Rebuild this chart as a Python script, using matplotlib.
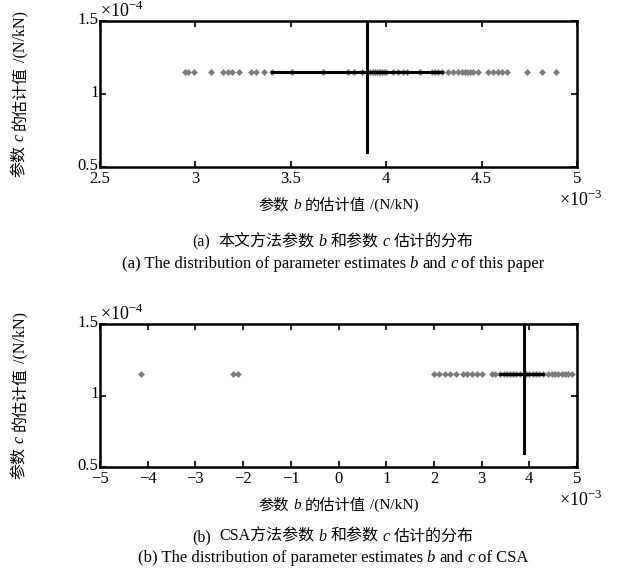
import matplotlib
matplotlib.use('Agg')

import matplotlib.pyplot as plt
import matplotlib.transforms as mtransforms
import numpy as np

# Estimates of parameter b (in units of 1e-3 N/kN), parameter c (1e-4 N/kN)
b_paper = [2.945, 2.962, 2.993, 3.08, 3.146, 3.169, 3.193, 3.23, 3.29, 3.316,
           3.361, 3.40, 3.507, 3.667, 3.80, 3.83, 3.874, 3.915, 3.93, 3.94,
           3.95, 3.96, 3.97, 3.98, 3.99, 4.0, 4.037, 4.063, 4.089, 4.107,
           4.177, 4.238, 4.256, 4.273, 4.29, 4.325, 4.351, 4.378, 4.395,
           4.413, 4.425, 4.439, 4.456, 4.482, 4.535, 4.561, 4.587, 4.605,
           4.631, 4.736, 4.814, 4.888]
b_csa = [-4.14, -2.205, -2.10, 2.00, 2.11, 2.23, 2.34, 2.46, 2.62, 2.70,
         2.79, 2.90, 3.00, 3.21, 3.28, 3.39, 3.46, 3.53, 3.60, 3.66, 3.73,
         3.80, 3.94, 4.00, 4.07, 4.14, 4.21, 4.28, 4.40, 4.47, 4.54, 4.61,
         4.68, 4.75, 4.82, 4.89]
c_value = 1.15

# mean marker: vertical at b mean, horizontal bar across the spread
b_mean = [3.9, 3.89]
b_bar = [(3.40, 4.29), (3.39, 4.28)]
c_vline_low = 0.6

xlims = [(2.5, 5.0), (-5.0, 5.0)]
xticks = [[2.5, 3, 3.5, 4, 4.5, 5], [-5, -4, -3, -2, -1, 0, 1, 2, 3, 4, 5]]
yticks = [0.5, 1, 1.5]

# (text, italic, gap before in px)
xlabel_runs = [('参数', False, 0), ('b', True, 4), ('的估计值', False, 4), ('/(N/kN)', False, 4)]
ylabel_runs = [('参数', False, 0), ('c', True, 4), ('的估计值', False, 4), ('/(N/kN)', False, 4)]
captions_cn = [
    [('(a)', False, 0), ('本文方法参数', False, 8), ('b', True, 4), ('和参数', False, 4),
     ('c', True, 4), ('估计的分布', False, 4)],
    [('(b)', False, 0), ('CSA方法参数', False, 8), ('b', True, 4), ('和参数', False, 4),
     ('c', True, 4), ('估计的分布', False, 4)],
]
captions_en = [
    [('(a) The distribution of parameter estimates', False, 0), ('b', True, 4),
     ('and', False, 4), ('c', True, 4), ('of this paper', False, 4)],
    [('(b) The distribution of parameter estimates', False, 0), ('b', True, 4),
     ('and', False, 4), ('c', True, 4), ('of CSA', False, 4)],
]

plt.rcParams['font.family'] = ['Liberation Serif', 'Noto Sans CJK SC']
plt.rcParams['mathtext.fontset'] = 'custom'
plt.rcParams['mathtext.rm'] = 'Liberation Serif'

fig = plt.figure(figsize=(6.17, 5.70), dpi=100)
renderer = fig.canvas.get_renderer()
W, H = fig.bbox.width, fig.bbox.height


def rich_text(x, y, runs, size, rotation=0):
    """Centred line of text made of upright and italic runs."""
    objs, lens = [], []
    for s, italic, gap in runs:
        t = fig.text(0, 0, s, fontsize=size, fontstyle='italic' if italic else 'normal',
                     rotation=rotation, rotation_mode='anchor',
                     ha='left', va='center_baseline')
        ext = t.get_window_extent(renderer)
        objs.append(t)
        lens.append((gap, ext.width if rotation == 0 else ext.height))
    total = sum(g + l for g, l in lens)
    pos = -total / 2
    for t, (gap, ln) in zip(objs, lens):
        pos += gap
        if rotation == 0:
            t.set_position((x + pos / W, y))
        else:
            t.set_position((x, y + pos / H))
        pos += ln


boxes = [(100, 21, 477, 146), (100, 324, 477, 143)]
axes = [fig.add_axes([l / W, 1 - (t + h) / H, w / W, h / H]) for l, t, w, h in boxes]
lift = mtransforms.ScaledTranslation(0, 3 / 100, fig.dpi_scale_trans)

for i, (ax, b_vals) in enumerate(zip(axes, [b_paper, b_csa])):
    ax.plot(b_vals, np.full(len(b_vals), c_value), 'D', color='#7a7a7a',
            markersize=3.5, markeredgewidth=0, zorder=2)
    ax.plot(b_bar[i], [c_value, c_value], color='black', linewidth=2.2, zorder=3)
    ax.plot([b_mean[i], b_mean[i]], [c_vline_low, 1.5], color='black',
            linewidth=2.2, zorder=3)

    ax.set_xlim(*xlims[i])
    ax.set_ylim(0.5, 1.5)
    ax.set_xticks(xticks[i])
    ax.set_xticklabels([('%g' % t).replace('-', '\u2212') for t in xticks[i]])
    ax.set_yticks(yticks)
    ax.set_yticklabels(['0.5', '1', '1.5'])
    ax.tick_params(direction='in', top=True, right=True, length=4, width=1.2,
                   labelsize=12)
    ax.tick_params(axis='x', pad=3)
    ax.tick_params(axis='y', pad=1)
    for lbl in ax.get_yticklabels():
        lbl.set_transform(lbl.get_transform() + lift)
    for sp in ax.spines.values():
        sp.set_linewidth(1.8)

    left, top, width, height = boxes[i]
    ax.text(0.0, 1.0, '$\\times$10$^{-4}$', transform=ax.transAxes,
            fontsize=13, ha='left', va='bottom')
    ax.text(1.0 - 18 / width, -33 / height, '$\\times$10$^{-3}$', transform=ax.transAxes,
            fontsize=13, ha='left', va='center')

    rich_text((left + width / 2) / W, 1 - (top + height + 37) / H, xlabel_runs, 11)
    rich_text(18 / W, 1 - (top + height / 2) / H, ylabel_runs, 11.5, rotation=90)

rich_text(0.54, 1 - 240 / H, captions_cn[0], 11.5)
rich_text(0.54, 1 - 262 / H, captions_en[0], 12)
rich_text(0.54, 1 - 535 / H, captions_cn[1], 11.5)
rich_text(0.54, 1 - 556 / H, captions_en[1], 12)

fig.savefig('out.png', dpi=100)
